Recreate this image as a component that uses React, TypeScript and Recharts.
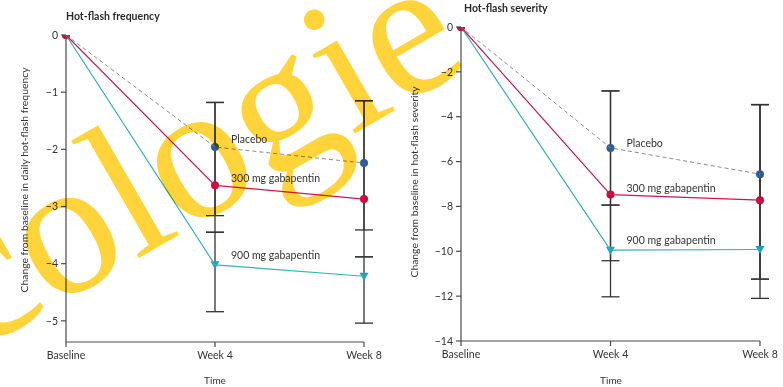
import { LineChart, Line, XAxis, YAxis, ErrorBar } from "recharts";

const timepoints = ["Baseline", "Week 4", "Week 8"];

// Hot-flash frequency: change from baseline in daily hot flashes
const freqPlacebo = [0, -1.96, -2.24];
const freq300 = [0, -2.63, -2.87];
const freq900 = [0, -4.02, -4.22];
// error bars as [below, above] the point
const freqPlaceboErr = [null, [1.2, 0.78], [1.17, 1.09]];
const freq300Err = [null, [0.82, 1.45], [1.01, 1.72]];
const freq900Err = [null, [0.82, 0.57], [0.82, 0.34]];
const freqTicks = [0, -1, -2, -3, -4, -5];

// Hot-flash severity score
const sevPlacebo = [0, -5.39, -6.56];
const sev300 = [0, -7.47, -7.72];
const sev900 = [0, -9.95, -9.92];
const sevPlaceboErr = [null, [2.55, 2.54], [4.68, 3.1]];
const sev300Err = [null, [2.95, 4.62], [3.52, 4.26]];
const sev900Err = [null, [2.08, 2.01], [2.18, 6.46]];
const sevTicks = [0, -2, -4, -6, -8, -10, -12, -14];

const seriesNames = ["Placebo", "300 mg gabapentin", "900 mg gabapentin"];

const FONT = "Lato, 'Open Sans', sans-serif";
const AXIS = "#4a4a4a";
const TEXT = "#333";

function buildRows(p: number[], a: number[], b: number[], pe: any[], ae: any[], be: any[]) {
  return timepoints.map((t, i) => ({
    time: t,
    placebo: p[i],
    g300: a[i],
    g900: b[i],
    placeboErr: pe[i],
    g300Err: ae[i],
    g900Err: be[i],
  }));
}

const freqRows = buildRows(freqPlacebo, freq300, freq900, freqPlaceboErr, freq300Err, freq900Err);
const sevRows = buildRows(sevPlacebo, sev300, sev900, sevPlaceboErr, sev300Err, sev900Err);

const minus = (v: number) => (v === 0 ? "0" : "\u2212" + Math.abs(v));

function TriangleDot(props: any) {
  const { cx, cy, index } = props;
  if (cx == null || cy == null) return null;
  return (
    <path
      key={`tri-${index}`}
      d={`M${cx - 4.5},${cy - 3.5} L${cx + 4.5},${cy - 3.5} L${cx},${cy + 4.5} Z`}
      fill="#1ca4bf"
    />
  );
}

function seriesLabel(text: string, dy: number) {
  return (props: any) => {
    if (props.index !== 1) return null;
    return (
      <text
        key={`lbl-${text}`}
        x={props.x + 16}
        y={props.y + dy}
        fontFamily={FONT}
        fontSize={10.5}
        fill={TEXT}
      >
        {text}
      </text>
    );
  };
}

interface PanelProps {
  rows: any[];
  domain: [number, number];
  ticks: number[];
  width: number;
  yWidth: number;
  margin: { top: number; right: number; bottom: number; left: number };
  labelDy: number[];
}

function Panel({ rows, domain, ticks, width, yWidth, margin, labelDy }: PanelProps) {
  const err = { width: 9, strokeWidth: 1.3, stroke: "#333", direction: "y" as const, isAnimationActive: false };
  const top = { zIndex: 1600 } as any;
  return (
    <LineChart width={width} height={387} data={rows} margin={margin}>
      <XAxis
        dataKey="time"
        interval={0}
        height={30}
        tickSize={5}
        tickMargin={5}
        axisLine={{ stroke: AXIS, strokeWidth: 1.2 }}
        tickLine={{ stroke: AXIS, strokeWidth: 1.2 }}
        tick={{ fontSize: 10.5, fill: TEXT, fontFamily: FONT }}
      />
      <YAxis
        type="number"
        domain={domain}
        ticks={ticks}
        allowDataOverflow
        width={yWidth}
        tickSize={5}
        tickMargin={3}
        tickFormatter={minus}
        axisLine={{ stroke: AXIS, strokeWidth: 1.2 }}
        tickLine={{ stroke: AXIS, strokeWidth: 1.2 }}
        tick={{ fontSize: 10.5, fill: TEXT, fontFamily: FONT }}
      />
      {/* error bars on unstroked copies of the series */}
      <Line dataKey="placebo" stroke="none" dot={false} activeDot={false} isAnimationActive={false}>
        <ErrorBar dataKey="placeboErr" {...err} />
      </Line>
      <Line dataKey="g900" stroke="none" dot={false} activeDot={false} isAnimationActive={false}>
        <ErrorBar dataKey="g900Err" {...err} />
      </Line>
      <Line dataKey="g300" stroke="none" dot={false} activeDot={false} isAnimationActive={false}>
        <ErrorBar dataKey="g300Err" {...err} />
      </Line>
      <Line
        {...top}
        dataKey="placebo"
        stroke="#8c8c8c"
        strokeWidth={1}
        strokeDasharray="4 3"
        dot={{ r: 4, fill: "#2d5b9a", stroke: "none" }}
        activeDot={false}
        isAnimationActive={false}
        label={seriesLabel(seriesNames[0], labelDy[0])}
      />
      <Line
        {...top}
        dataKey="g900"
        stroke="#35b3b5"
        strokeWidth={1.2}
        dot={<TriangleDot />}
        activeDot={false}
        isAnimationActive={false}
        label={seriesLabel(seriesNames[2], labelDy[2])}
      />
      <Line
        {...top}
        dataKey="g300"
        stroke="#c81a4c"
        strokeWidth={1.2}
        dot={{ r: 4, fill: "#cc0a3e", stroke: "none" }}
        activeDot={false}
        isAnimationActive={false}
        label={seriesLabel(seriesNames[1], labelDy[1])}
      />
    </LineChart>
  );
}

export default function App() {
  const title = { fontFamily: FONT, fontSize: 10.5, fontWeight: 700, fill: "#2a2a2a" };
  const axisTitle = { fontFamily: FONT, fontSize: 10, fill: TEXT };
  return (
    <div
      style={{
        position: "absolute",
        left: 0,
        top: 0,
        width: 783,
        height: 387,
        background: "#fff",
        overflow: "hidden",
        isolation: "isolate",
      }}
    >
      <div style={{ position: "absolute", left: 0, top: 0 }}>
        <Panel
          rows={freqRows}
          domain={[-5.37, 0]}
          ticks={freqTicks}
          width={390}
          yWidth={66}
          margin={{ top: 35, right: 26, bottom: 15, left: 0 }}
          labelDy={[-4, -3, -6]}
        />
      </div>
      <div style={{ position: "absolute", left: 390, top: 0 }}>
        <Panel
          rows={sevRows}
          domain={[-14, 0]}
          ticks={sevTicks}
          width={393}
          yWidth={71}
          margin={{ top: 27, right: 23, bottom: 16, left: 0 }}
          labelDy={[-1, -3, -6]}
        />
      </div>
      <svg width={783} height={387} style={{ position: "absolute", left: 0, top: 0, pointerEvents: "none" }}>
        <text x={66} y={20} {...title}>Hot-flash frequency</text>
        <text x={464} y={12} {...title}>Hot-flash severity</text>
        <text x={215} y={384} textAnchor="middle" {...axisTitle}>Time</text>
        <text x={611} y={384} textAnchor="middle" {...axisTitle}>Time</text>
        <text
          transform="translate(28,180) rotate(-90)"
          textAnchor="middle"
          textLength={225}
          lengthAdjust="spacingAndGlyphs"
          {...axisTitle}
        >
          Change from baseline in daily hot-flash frequency
        </text>
        <text
          transform="translate(418,182) rotate(-90)"
          textAnchor="middle"
          textLength={191}
          lengthAdjust="spacingAndGlyphs"
          {...axisTitle}
        >
          Change from baseline in hot-flash severity
        </text>
      </svg>
      <svg
        width={783}
        height={387}
        style={{ position: "absolute", left: 0, top: 0, pointerEvents: "none", mixBlendMode: "multiply" }}
      >
        <text
          transform="translate(-24,352) rotate(-30)"
          fontFamily="'Liberation Serif', 'DejaVu Serif', serif"
          fontSize={195}
          fill="#ffd43b"
        >
          cologie
        </text>
      </svg>
    </div>
  );
}
